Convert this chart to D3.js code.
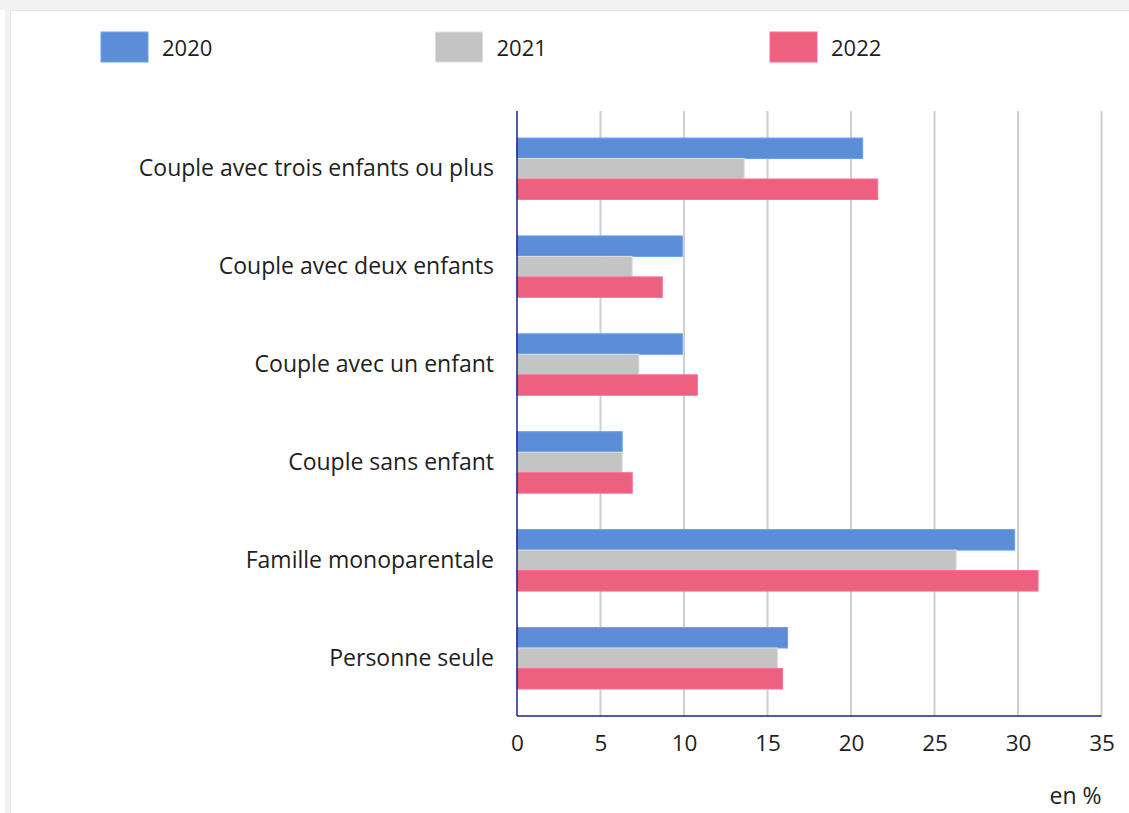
<!DOCTYPE html>
<html lang="fr">
<head>
<meta charset="utf-8">
<script src="https://cdn.jsdelivr.net/npm/d3@7"></script>
<style>
  html, body { margin: 0; padding: 0; background: #ffffff; }
  svg { display: block; font-family: "Open Sans", "Noto Sans", sans-serif; }
</style>
</head>
<body>
<svg id="chart" width="1129" height="813"></svg>
<script>
// Household types, from top to bottom
const categories = [
  "Couple avec trois enfants ou plus",
  "Couple avec deux enfants",
  "Couple avec un enfant",
  "Couple sans enfant",
  "Famille monoparentale",
  "Personne seule"
];

const years = ["2020", "2021", "2022"];

// Share (en %) per household type
const values2020 = [20.7, 9.9, 9.9, 6.3, 29.8, 16.2];
const values2021 = [13.6, 6.9, 7.3, 6.3, 26.3, 15.6];
const values2022 = [21.6, 8.7, 10.8, 6.9, 31.2, 15.9];

const xTicks = [0, 5, 10, 15, 20, 25, 30, 35];

const colors = ["#5b8ed6", "#c4c4c4", "#ec6080"];

const series = [values2020, values2021, values2022];
const rows = categories.map((c, i) => ({
  category: c,
  values: years.map((y, k) => ({ year: y, value: series[k][i] }))
}));

const textColor = "#1e1e1e";

const svg = d3.select("#chart");

// Page frame: light grey strip along the top and left edge
svg.append("rect").attr("x", 0).attr("y", 0).attr("width", 1129).attr("height", 10).attr("fill", "#f2f2f2");
svg.append("rect").attr("x", 5).attr("y", 0).attr("width", 5).attr("height", 813).attr("fill", "#f2f2f2");
svg.append("line").attr("x1", 10.5).attr("x2", 10.5).attr("y1", 10.5).attr("y2", 813)
  .attr("stroke", "#e4e4e4").attr("stroke-width", 1);
svg.append("line").attr("x1", 10.5).attr("x2", 1129).attr("y1", 10.5).attr("y2", 10.5)
  .attr("stroke", "#e4e4e4").attr("stroke-width", 1);

const plot = { left: 517, right: 1101.5, top: 111, bottom: 716 };

const x = d3.scaleLinear().domain([0, 35]).range([plot.left, plot.right]);

const y = d3.scaleBand()
  .domain(categories)
  .range([plot.top, plot.bottom])
  .paddingInner(0.372)
  .paddingOuter(0.276);

const ySub = d3.scaleBand().domain(years).range([0, y.bandwidth()]);

const color = d3.scaleOrdinal().domain(years).range(colors);

// Vertical gridlines
svg.append("g")
  .selectAll("line")
  .data(xTicks.filter(t => t > 0))
  .join("line")
  .attr("x1", d => x(d)).attr("x2", d => x(d))
  .attr("y1", plot.top).attr("y2", plot.bottom)
  .attr("stroke", "#cfcfcf")
  .attr("stroke-width", 2);

// Bars
const groups = svg.append("g")
  .selectAll("g")
  .data(rows)
  .join("g")
  .attr("transform", d => `translate(0,${y(d.category)})`);

groups.selectAll("rect")
  .data(d => d.values)
  .join("rect")
  .attr("x", x(0))
  .attr("y", d => ySub(d.year))
  .attr("width", d => x(d.value) - x(0))
  .attr("height", ySub.bandwidth())
  .attr("fill", d => color(d.year))
  .attr("stroke", d => d3.color(color(d.year)).brighter(0.35))
  .attr("stroke-width", 1);

// Axes lines
svg.append("line")
  .attr("x1", plot.left).attr("x2", plot.left)
  .attr("y1", plot.top).attr("y2", plot.bottom)
  .attr("stroke", "#1f1f8f").attr("stroke-width", 1.5);
svg.append("line")
  .attr("x1", plot.left).attr("x2", plot.right)
  .attr("y1", plot.bottom).attr("y2", plot.bottom)
  .attr("stroke", "#1f1f8f").attr("stroke-width", 1.5);

// X axis labels
const xAxis = d3.axisBottom(x).tickValues(xTicks).tickSize(0).tickPadding(19);
const gx = svg.append("g")
  .attr("transform", `translate(0,${plot.bottom})`)
  .call(xAxis);
gx.select(".domain").remove();
gx.selectAll("text")
  .attr("font-family", "'Open Sans', sans-serif")
  .attr("font-size", 22.5)
  .attr("fill", textColor);

// Category labels
const yAxis = d3.axisLeft(y).tickSize(0).tickPadding(23);
const gy = svg.append("g")
  .attr("transform", `translate(${plot.left},0)`)
  .call(yAxis);
gy.select(".domain").remove();
gy.selectAll("text")
  .attr("font-family", "'Open Sans', sans-serif")
  .attr("font-size", 23)
  .attr("fill", textColor);

// Unit note
svg.append("text")
  .attr("x", plot.right)
  .attr("y", 796)
  .attr("dy", "0.35em")
  .attr("text-anchor", "end")
  .attr("font-size", 23)
  .attr("fill", textColor)
  .text("en %");

// Legend
const legendX = d3.scalePoint().domain(years).range([101, 770]);
const legend = svg.append("g")
  .selectAll("g")
  .data(years)
  .join("g")
  .attr("transform", d => `translate(${legendX(d)},32)`);
legend.append("rect")
  .attr("width", 47).attr("height", 30)
  .attr("fill", d => color(d))
  .attr("stroke", d => d3.color(color(d)).brighter(0.35))
  .attr("stroke-width", 1);
legend.append("text")
  .attr("x", 61).attr("y", 16)
  .attr("dy", "0.35em")
  .attr("font-size", 22)
  .attr("fill", textColor)
  .text(d => d);
</script>
</body>
</html>
